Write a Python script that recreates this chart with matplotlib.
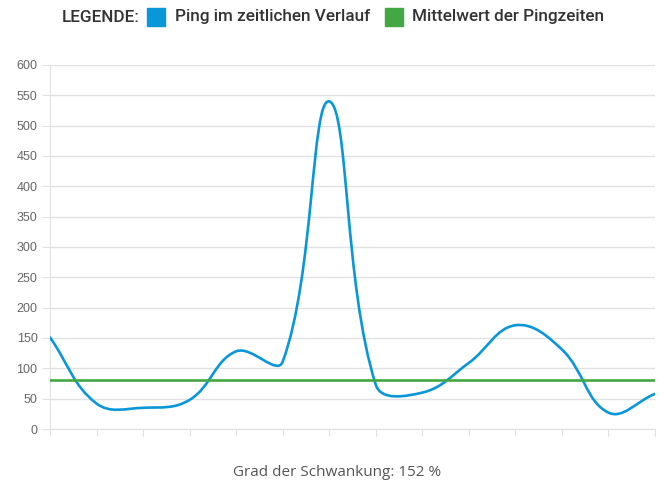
import numpy as np
import matplotlib
matplotlib.use("Agg")
import matplotlib.pyplot as plt
from matplotlib.path import Path
from matplotlib.patches import PathPatch, Rectangle

# ping values in ms, one per measurement
ping = [151, 42, 35, 48, 128, 111, 540, 73, 60, 109, 171, 131, 27, 58]
mean_ping = 80
y_ticks = list(range(0, 601, 50))
legend_labels = ["Ping im zeitlichen Verlauf", "Mittelwert der Pingzeiten"]
footer = "Grad der Schwankung: 152 %"

blue = "#0a97d9"
green = "#43a843"
grid_c = "#e1e1e1"

fig = plt.figure(figsize=(6.68, 4.88), dpi=100)
ax = fig.add_axes([50 / 668, 59 / 488, 605 / 668, 364 / 488])
n = len(ping)
ax.set_xlim(0, n - 1)
ax.set_ylim(0, 600)


def spline_path(xs, ys, tension=0.4):
    # chart.js style bezier, control points computed in pixel space
    pts = ax.transData.transform(np.column_stack([xs, ys]))
    verts = [pts[0]]
    codes = [Path.MOVETO]
    cps = []
    for i in range(len(pts)):
        p0 = pts[max(i - 1, 0)]
        p1 = pts[i]
        p2 = pts[min(i + 1, len(pts) - 1)]
        d01 = np.hypot(*(p1 - p0))
        d12 = np.hypot(*(p2 - p1))
        tot = d01 + d12
        s01 = d01 / tot if tot else 0
        s12 = d12 / tot if tot else 0
        cps.append((p1 - tension * s01 * (p2 - p0), p1 + tension * s12 * (p2 - p0)))
    for i in range(1, len(pts)):
        verts += [cps[i - 1][1], cps[i][0], pts[i]]
        codes += [Path.CURVE4] * 3
    verts = ax.transData.inverted().transform(np.array(verts))
    return Path(verts, codes)


for v in y_ticks:
    ax.axhline(v, color=grid_c, lw=1, zorder=0)

ax.add_patch(PathPatch(spline_path(np.arange(n), ping), fill=False,
                       edgecolor=blue, lw=1.9, zorder=3, capstyle="round"))
ax.axhline(mean_ping, color=green, lw=1.9, zorder=4)

for s in ["top", "right"]:
    ax.spines[s].set_visible(False)
ax.spines["left"].set_color(grid_c)
ax.spines["bottom"].set_color(grid_c)
ax.set_xticks(np.arange(n))
ax.set_xticklabels([])
ax.set_yticks(y_ticks)
ax.tick_params(axis="x", length=5, color=grid_c)
ax.tick_params(axis="y", length=6, color=grid_c, labelsize=9, labelcolor="#666666",
               pad=3)
for lab in ax.get_yticklabels():
    lab.set_family("Liberation Sans")

# legend row on top
lfont = dict(family="Roboto", weight="medium", fontsize=12.3,
             color="#333333", va="center")
fig.text(62 / 668, 1 - 17 / 488, "LEGENDE:", **lfont)
fig.patches.append(Rectangle((147 / 668, 1 - 26 / 488), 18 / 668, 18 / 488,
                             transform=fig.transFigure, color=blue, figure=fig))
fig.text(175 / 668, 1 - 17 / 488, legend_labels[0], **lfont)
fig.patches.append(Rectangle((385 / 668, 1 - 26 / 488), 18 / 668, 18 / 488,
                             transform=fig.transFigure, color=green, figure=fig))
fig.text(412 / 668, 1 - 17 / 488, legend_labels[1], **lfont)

fig.text(337 / 668, 1 - 472 / 488, footer, family="Open Sans", fontsize=11,
         color="#555555", ha="center", va="center")

fig.savefig("out.png", dpi=100)
